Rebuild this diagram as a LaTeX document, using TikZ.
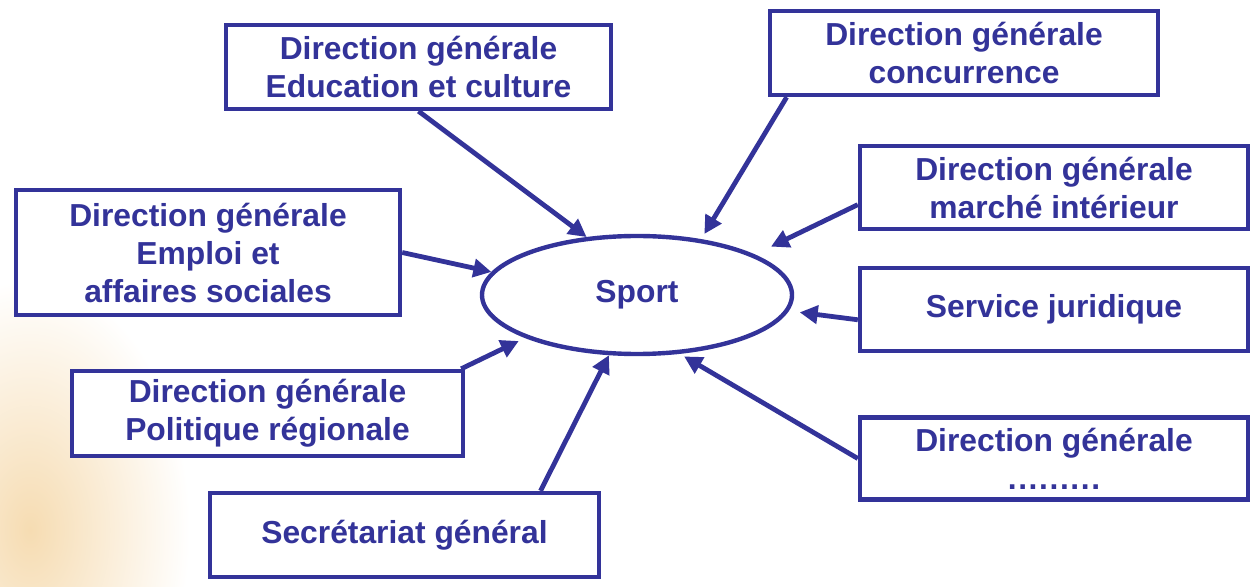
\documentclass[tikz,border=0pt]{standalone}
\usepackage{fontspec}
\setmainfont{Liberation Sans}
\usepackage{tikz}
\usetikzlibrary{arrows.meta,shapes.geometric}
\definecolor{dgblue}{RGB}{51,51,153}
\definecolor{glow}{RGB}{246,220,178}

\begin{document}
\begin{tikzpicture}[x=0.5pt,y=-0.5pt,
	dgbox/.style={draw=dgblue,line width=2.2pt,fill=white,text=dgblue,align=center,
		font=\fontsize{15.9}{19}\selectfont\bfseries,inner sep=0pt},
	dgarrow/.style={draw=dgblue,line width=2.4pt,-{Triangle[length=9pt,width=9pt]}}]
	\useasboundingbox (0,0) rectangle (1252,587);
	\shade[inner color=glow, outer color=white] (30,530) ellipse[x radius=80pt,y radius=125pt];
	\node[dgbox,minimum width=192.5pt,minimum height=42pt] (edu) at (418.5,67) {Direction générale\\Education et culture};
	\node[dgbox,minimum width=194pt,minimum height=42pt] (conc) at (964,53) {Direction générale\\concurrence};
	\node[dgbox,minimum width=194pt,minimum height=41.5pt] (marche) at (1054,187.5) {Direction générale\\marché intérieur};
	\node[dgbox,minimum width=194pt,minimum height=41.5pt] (serv) at (1054,309.5) {Service juridique};
	\node[dgbox,minimum width=194pt,minimum height=41pt] (autre) at (1054,458.5) {Direction générale\\.\kern.8pt.\kern.8pt.\kern.8pt.\kern.8pt.\kern.8pt.\kern.8pt.\kern.8pt.\kern.8pt.};
	\node[dgbox,minimum width=192pt,minimum height=62.5pt] (emploi) at (208,252.5) {Direction générale\\Emploi et\\affaires sociales};
	\node[dgbox,minimum width=195.5pt,minimum height=42.5pt] (pol) at (267.5,413.5) {Direction générale\\Politique régionale};
	\node[dgbox,minimum width=194.5pt,minimum height=42pt] (secr) at (404.5,535) {Secrétariat général};
	\node[dgbox,ellipse,minimum width=155pt,minimum height=59pt] (sport) at (637,295) {Sport};
	\draw[dgarrow] (edu.south) -- (sport.131);
	\draw[dgarrow,shorten >=3pt] (conc.194) -- (sport.41);
	\draw[dgarrow,shorten >=9pt] (marche.185) -- (sport.19);
	\draw[dgarrow,shorten >=5.5pt] (serv.183) -- (sport.-6);
	\draw[dgarrow,shorten >=2.5pt] (autre.west) -- (sport.-54);
	\draw[dgarrow] (emploi.east) -- (sport.171);
	\draw[dgarrow,shorten >=3.5pt] (pol.13) -- (sport.201);
	\draw[dgarrow] (secr.18) -- (sport.245);
\end{tikzpicture}
\end{document}
